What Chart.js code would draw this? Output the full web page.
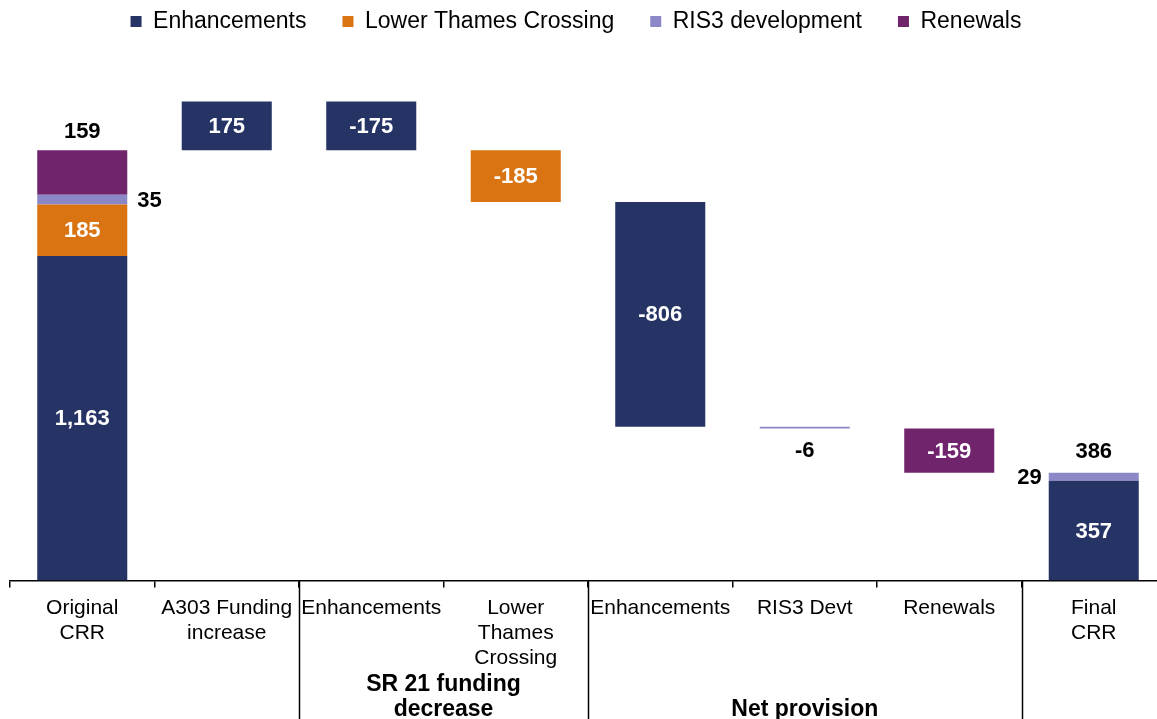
<!DOCTYPE html>
<html>
<head>
<meta charset="utf-8">
<script src="https://cdn.jsdelivr.net/npm/chart.js@4"></script>
<style>
  html, body { margin: 0; padding: 0; background: #fff; overflow: hidden; }
  canvas { display: block; }
</style>
</head>
<body>
<canvas id="chart" width="1166" height="719"></canvas>
<script>
const categories = [['Original', 'CRR'], ['A303 Funding', 'increase'], 'Enhancements', ['Lower', 'Thames', 'Crossing'],
  'Enhancements', 'RIS3 Devt', 'Renewals', ['Final', 'CRR']];
const seriesNames = ['Enhancements', 'Lower Thames Crossing', 'RIS3 development', 'Renewals'];
const enhancements = [1163, 175, -175, null, -806, null, null, 357];
const lowerThames = [185, null, null, -185, null, null, null, null];
const ris3Dev = [35, null, null, null, null, -6, null, 29];
const renewals = [159, null, null, null, null, null, -159, null];
const totalColumns = [0, 7];          // columns that start from zero
const totalLabelColumns = [7];        // columns with a total shown above
const groups = [
  { label: ['SR 21 funding', 'decrease'], from: 2, to: 3 },
  { label: ['Net provision'], from: 4, to: 6 }
];
const dividers = [1.5, 3.5, 6.5];

const colors = ['#253365', '#DA7311', '#8C88C8', '#70246C'];
const FONT = '"Liberation Sans", Arial, sans-serif';
// where each value label goes (default: inside the bar, white)
const labelPlace = {
  2: { 0: 'right', 5: 'below', 7: 'left' },
  3: { 0: 'above' }
};

const seriesList = [enhancements, lowerThames, ris3Dev, renewals];

// waterfall: turn the changes into floating [start, end] bars
const floats = seriesList.map(() => categories.map(() => null));
let running = 0;
categories.forEach((c, i) => {
  let base = totalColumns.includes(i) ? 0 : running;
  seriesList.forEach((s, k) => {
    if (s[i] == null) return;
    floats[k][i] = [base, base + s[i]];
    base += s[i];
  });
  running = base;
});

const fmt = v => v.toLocaleString('en-US');

const labelPlugin = {
  id: 'valueLabels',
  afterLayout(chart) {
    // legend sits a little left of the plot centre in the original
    chart.legend.left -= 12;
    chart.legend.right -= 12;
  },
  afterDatasetsDraw(chart) {
    const ctx = chart.ctx;
    ctx.save();
    ctx.font = 'bold 22px ' + FONT;
    ctx.textBaseline = 'middle';
    const tops = {};
    chart.data.datasets.forEach((ds, k) => {
      const meta = chart.getDatasetMeta(k);
      meta.data.forEach((bar, i) => {
        const v = seriesList[k][i];
        if (v == null) return;
        const top = Math.min(bar.y, bar.base);
        const bottom = Math.max(bar.y, bar.base);
        tops[i] = tops[i] == null ? top : Math.min(tops[i], top);
        const place = (labelPlace[k] && labelPlace[k][i]) || 'in';
        let x = bar.x, y = (top + bottom) / 2 + 1, align = 'center', color = '#fff';
        if (place === 'above') { y = top - 18; color = '#000'; }
        if (place === 'below') { y = bottom + 23; color = '#000'; }
        if (place === 'right') { x = bar.x + bar.width / 2 + 10; align = 'left'; color = '#000'; }
        if (place === 'left') { x = bar.x - bar.width / 2 - 7; align = 'right'; color = '#000'; }
        ctx.fillStyle = color;
        ctx.textAlign = align;
        ctx.fillText(fmt(v), x, y);
      });
    });
    ctx.fillStyle = '#000';
    ctx.textAlign = 'center';
    totalLabelColumns.forEach(i => {
      const total = seriesList.reduce((a, s) => a + (s[i] || 0), 0);
      ctx.fillText(fmt(total), chart.scales.x.getPixelForValue(i), tops[i] - 21);
    });
    ctx.restore();
  }
};

const groupPlugin = {
  id: 'groupAxis',
  afterDraw(chart) {
    const ctx = chart.ctx;
    const xs = chart.scales.x;
    const yb = chart.chartArea.bottom;
    ctx.save();
    ctx.strokeStyle = '#000';
    ctx.lineWidth = 1.5;
    dividers.forEach(d => {
      const px = Math.round(xs.getPixelForValue(d)) + 0.5;
      ctx.beginPath();
      ctx.moveTo(px, yb);
      ctx.lineTo(px, chart.height);
      ctx.stroke();
    });
    ctx.fillStyle = '#000';
    ctx.font = 'bold 23px ' + FONT;
    ctx.textAlign = 'center';
    ctx.textBaseline = 'middle';
    groups.forEach(g => {
      const x = (xs.getPixelForValue(g.from) + xs.getPixelForValue(g.to)) / 2;
      const n = g.label.length;
      g.label.forEach((line, j) => {
        ctx.fillText(line, x, 710 - (n - 1 - j) * 25);
      });
    });
    ctx.restore();
  }
};

new Chart(document.getElementById('chart'), {
  type: 'bar',
  data: {
    labels: categories,
    datasets: seriesNames.map((name, k) => ({
      label: name,
      data: floats[k],
      backgroundColor: colors[k],
      borderWidth: 0,
      grouped: false,
      barPercentage: 0.623,
      categoryPercentage: 1
    }))
  },
  options: {
    responsive: false,
    animation: false,
    layout: { padding: { top: -26, left: 10, right: 0, bottom: 40 } },
    plugins: {
      legend: {
        position: 'top',
        labels: {
          color: '#000',
          font: { size: 23, family: FONT },
          boxWidth: 11,
          boxHeight: 11,
          padding: 36
        }
      },
      tooltip: { enabled: false }
    },
    scales: {
      x: {
        grid: { offset: true, drawOnChartArea: false, drawTicks: true, tickLength: 7, color: '#000', lineWidth: 1.5 },
        border: { display: true, color: '#000', width: 1.5 },
        ticks: { color: '#000', font: { size: 21, family: FONT }, padding: 8, autoSkip: false, maxRotation: 0 }
      },
      y: {
        display: false,
        min: 0,
        max: 1927
      }
    }
  },
  plugins: [labelPlugin, groupPlugin]
});
</script>
</body>
</html>
